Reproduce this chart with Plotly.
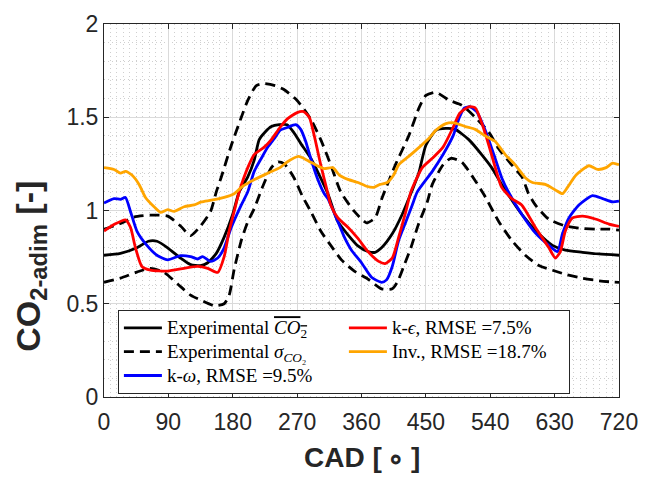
import plotly.graph_objects as go

# ---------------- data ----------------
cad_mean = [0, 23, 46, 62, 74, 89, 107, 121, 135, 145, 157, 168, 180, 189, 201, 210, 217, 225, 234,
            245, 256, 265, 275, 289, 301, 313, 327, 341, 355, 369, 379, 388, 403, 417, 430, 440, 450,
            464, 478, 491, 510, 528, 542, 556, 584, 608, 627, 645, 669, 692, 720]
co2_mean = [0.76, 0.77, 0.80, 0.835, 0.835, 0.80, 0.745, 0.71, 0.705, 0.72, 0.77, 0.857, 0.98, 1.10,
            1.18, 1.27, 1.38, 1.42, 1.45, 1.46, 1.46, 1.42, 1.36, 1.28, 1.19, 1.09, 0.94, 0.87, 0.81,
            0.78, 0.776, 0.80, 0.875, 0.98, 1.10, 1.20, 1.35, 1.43, 1.44, 1.435, 1.38, 1.30, 1.23,
            1.14, 0.98, 0.875, 0.813, 0.787, 0.776, 0.767, 0.76]

cad_upper = [0, 23, 42, 65, 89, 107, 121, 135, 149, 157, 164, 178, 192, 201, 213, 224, 239, 251, 270,
             289, 303, 317, 331, 350, 367, 379, 389, 408, 426, 441, 450, 464, 483, 500, 519, 538, 552,
             570, 585, 593, 603, 622, 645, 664, 688, 706, 720]
co2_upper = [0.90, 0.93, 0.965, 0.975, 0.97, 0.917, 0.865, 0.917, 0.995, 1.10, 1.18, 1.35, 1.50, 1.59,
             1.67, 1.68, 1.67, 1.65, 1.59, 1.49, 1.38, 1.245, 1.10, 0.995, 0.934, 0.96, 1.07, 1.25,
             1.40, 1.556, 1.617, 1.634, 1.59, 1.565, 1.50, 1.42, 1.33, 1.245, 1.176, 1.095, 1.03,
             0.953, 0.917, 0.905, 0.90, 0.90, 0.895]

cad_lower = [0, 23, 46, 65, 84, 103, 121, 135, 154, 168, 175, 182, 192, 201, 210, 221, 234, 243, 252,
             265, 277, 289, 303, 317, 332, 350, 369, 388, 403, 410, 419, 429, 440, 452, 459, 474, 485,
             500, 519, 532, 552, 570, 589, 608, 627, 645, 669, 692, 706, 720]
co2_lower = [0.615, 0.637, 0.67, 0.69, 0.668, 0.606, 0.546, 0.52, 0.49, 0.50, 0.546, 0.684, 0.84, 0.94,
             1.01, 1.12, 1.23, 1.26, 1.25, 1.18, 1.08, 0.995, 0.89, 0.813, 0.735, 0.675, 0.632, 0.58,
             0.58, 0.615, 0.70, 0.80, 0.93, 1.046, 1.14, 1.245, 1.28, 1.26, 1.16, 1.08, 0.94, 0.84,
             0.76, 0.705, 0.68, 0.658, 0.637, 0.623, 0.618, 0.615]

cad_keps = [0, 14, 30, 37, 44, 53, 65, 89, 112, 131, 145, 159, 168, 175, 182, 189, 201, 210, 224, 234,
            246, 256, 270, 279, 287, 294, 303, 313, 317, 327, 341, 355, 369, 384, 393, 403, 412, 422,
            429, 445, 459, 474, 488, 497, 510, 519, 528, 538, 547, 556, 570, 584, 603, 622, 631, 638,
            645, 655, 669, 688, 706, 720]
co2_keps = [0.89, 0.925, 0.95, 0.91, 0.80, 0.70, 0.68, 0.675, 0.69, 0.70, 0.69, 0.668, 0.753, 0.89,
            0.995, 1.10, 1.23, 1.30, 1.34, 1.38, 1.445, 1.49, 1.525, 1.53, 1.50, 1.40, 1.245, 1.09,
            1.03, 0.96, 0.91, 0.85, 0.78, 0.727, 0.715, 0.745, 0.857, 0.995, 1.10, 1.23, 1.28, 1.34,
            1.445, 1.52, 1.556, 1.55, 1.47, 1.35, 1.23, 1.124, 1.064, 1.03, 0.91, 0.80, 0.745, 0.78,
            0.89, 0.96, 0.97, 0.953, 0.927, 0.915]

cad_komega = [0, 14, 23, 30, 37, 46, 60, 74, 89, 107, 121, 131, 138, 149, 159, 168, 178, 192, 201, 210,
              220, 229, 239, 246, 256, 268, 275, 282, 289, 298, 308, 313, 327, 336, 346, 360, 374, 388,
              395, 403, 412, 422, 431, 438, 459, 474, 488, 497, 504, 512, 521, 533, 545, 556, 566, 584,
              603, 622, 634, 641, 650, 664, 683, 697, 711, 720]
co2_komega = [1.04, 1.064, 1.06, 1.07, 0.995, 0.89, 0.813, 0.76, 0.735, 0.758, 0.753, 0.74, 0.753,
              0.727, 0.745, 0.80, 0.91, 1.03, 1.10, 1.21, 1.28, 1.34, 1.39, 1.43, 1.445, 1.46, 1.435,
              1.37, 1.28, 1.176, 1.09, 1.064, 0.94, 0.857, 0.787, 0.72, 0.642, 0.615, 0.628, 0.70,
              0.84, 0.94, 1.03, 1.10, 1.21, 1.30, 1.40, 1.50, 1.55, 1.556, 1.53, 1.43, 1.30, 1.176,
              1.095, 0.98, 0.88, 0.813, 0.78, 0.875, 0.96, 1.03, 1.08, 1.064, 1.046, 1.05]

cad_inv = [0, 14, 23, 30, 39, 49, 58, 70, 79, 89, 98, 112, 126, 136, 150, 168, 182, 192, 211, 229, 246,
           256, 272, 284, 298, 308, 320, 329, 341, 355, 367, 377, 386, 396, 405, 412, 426, 441, 455,
           464, 478, 490, 505, 519, 533, 547, 561, 575, 589, 599, 617, 631, 641, 648, 660, 678, 690,
           702, 711, 720]
co2_inv = [1.23, 1.22, 1.20, 1.21, 1.19, 1.14, 1.07, 1.02, 0.99, 1.005, 0.995, 1.02, 1.03, 1.046, 1.055,
           1.07, 1.09, 1.124, 1.167, 1.20, 1.23, 1.26, 1.29, 1.27, 1.24, 1.225, 1.23, 1.19, 1.167,
           1.15, 1.13, 1.124, 1.14, 1.15, 1.19, 1.245, 1.29, 1.34, 1.39, 1.43, 1.466, 1.47, 1.45,
           1.435, 1.40, 1.37, 1.30, 1.245, 1.176, 1.15, 1.14, 1.11, 1.09, 1.124, 1.19, 1.24, 1.22,
           1.23, 1.254, 1.245]

x_ticks = [0, 90, 180, 270, 360, 450, 540, 630, 720]
y_ticks = [0, 0.5, 1, 1.5, 2]
y_tick_text = ["0", "0.5", "1", "1.5", "2"]

LEG_SPAN = "<span style='font-size:19px'>{}</span>"
names = {
    "mean": LEG_SPAN.format("Experimental <span style='text-decoration:overline'><i>CO</i><sub>2</sub></span>"),
    "sigma": LEG_SPAN.format("Experimental <i>σ</i><sub><i>CO</i>₂</sub>"),
    "komega": LEG_SPAN.format("k-<i>ω</i>, RMSE =9.5%"),
    "keps": LEG_SPAN.format("k-<i>ϵ</i>, RMSE =7.5%"),
    "inv": LEG_SPAN.format("Inv., RMSE =18.7%"),
}

# ---------------- figure ----------------
LW = 2.8
DASH = "10px,6px"
fig = go.Figure()
fig.add_trace(go.Scatter(x=cad_mean, y=co2_mean, mode="lines", name=names["mean"], legendrank=1,
                         line=dict(color="#000000", width=LW, shape="spline", smoothing=0.6)))
fig.add_trace(go.Scatter(x=cad_upper, y=co2_upper, mode="lines", name=names["sigma"], legendrank=3,
                         line=dict(color="#000000", width=LW, dash=DASH, shape="spline",
                                   smoothing=0.6)))
fig.add_trace(go.Scatter(x=cad_lower, y=co2_lower, mode="lines", name=names["sigma"], showlegend=False,
                         line=dict(color="#000000", width=LW, dash=DASH, shape="spline",
                                   smoothing=0.6)))
fig.add_trace(go.Scatter(x=cad_komega, y=co2_komega, mode="lines", name=names["komega"], legendrank=5,
                         line=dict(color="#0000ff", width=LW, shape="spline", smoothing=0.6)))
fig.add_trace(go.Scatter(x=cad_keps, y=co2_keps, mode="lines", name=names["keps"], legendrank=2,
                         line=dict(color="#ff0000", width=LW, shape="spline", smoothing=0.6)))
fig.add_trace(go.Scatter(x=cad_inv, y=co2_inv, mode="lines", name=names["inv"], legendrank=4,
                         line=dict(color="#ffa500", width=LW, shape="spline", smoothing=0.6)))

axis_color = "#262626"
common = dict(showline=True, linecolor=axis_color, linewidth=1, mirror="ticks", ticks="inside",
              ticklen=5, tickcolor=axis_color, tickwidth=1, zeroline=False, showgrid=True,
              gridcolor="#dadada", gridwidth=1, ticklabeloverflow="allow",
              tickfont=dict(family="Liberation Sans", size=23, color=axis_color))

fig.update_xaxes(range=[0, 720], tickmode="array", tickvals=x_ticks,
                 ticktext=[str(v) for v in x_ticks], ticklabelstandoff=4,
                 minor=dict(dtick=9, tick0=0, showgrid=True, gridcolor="#cfcfcf", griddash="1px,3px",
                            gridwidth=1, ticks=""),
                 **common)
fig.update_yaxes(range=[0, 2], tickmode="array", tickvals=y_ticks, ticktext=y_tick_text,
                 minor=dict(dtick=0.1, tick0=0, showgrid=True, gridcolor="#cfcfcf",
                            griddash="1px,3px", gridwidth=1, ticks=""),
                 **common)

fig.update_layout(
    width=658, height=477,
    margin=dict(l=104, r=39, t=11, b=80),
    plot_bgcolor="white", paper_bgcolor="white",
    font=dict(family="Liberation Sans", color=axis_color),
    showlegend=True,
    legend=dict(orientation="h", x=0.027, y=0.2332, xanchor="left", yanchor="top",
                entrywidth=172, entrywidthmode="pixels", itemwidth=38, traceorder="normal",
                bgcolor="white", bordercolor=axis_color, borderwidth=1,
                font=dict(family="Liberation Serif", size=16, color="#000000")),
    annotations=[
        dict(text="<b>CAD [\u2009∘\u2009]</b>", xref="paper", yref="paper", x=0.5, y=-0.163,
             xanchor="center", yanchor="middle", showarrow=False,
             font=dict(family="Liberation Sans", size=28, color=axis_color)),
        dict(text="<b>CO<sub>2-adim</sub> [-]</b>", xref="paper", yref="paper", x=-0.143, y=0.35,
             xanchor="center", yanchor="middle", textangle=-90, showarrow=False,
             font=dict(family="Liberation Sans", size=34, color=axis_color)),
    ],
)

fig.write_html("out.html")
